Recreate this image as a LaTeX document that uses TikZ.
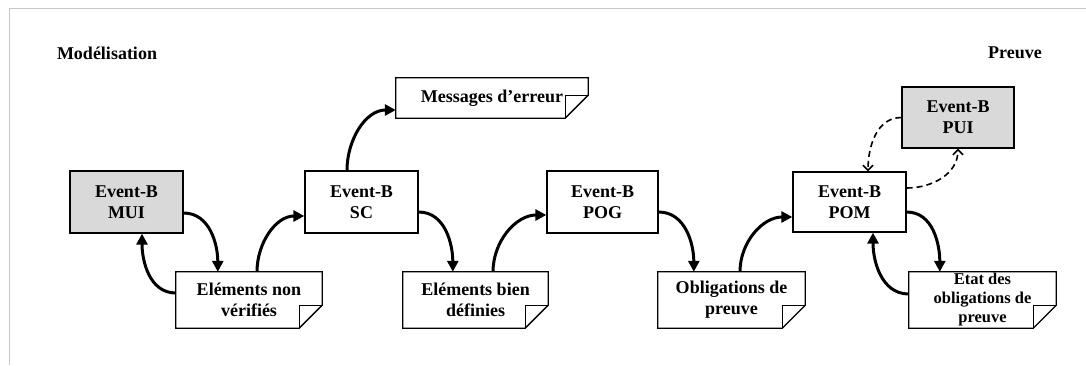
\documentclass[tikz,border=0pt]{standalone}
\usepackage{fontspec}
\setmainfont{Liberation Serif}
\usetikzlibrary{arrows.meta,calc}
\definecolor{boxgray}{HTML}{D9D9D9}
\definecolor{framegray}{HTML}{C8C8C8}
\newcommand\drawdocshape[1]{%
  \draw[line width=1.3pt, line join=miter] (#1.north west) -- (#1.north east) -- ([yshift=23pt]#1.south east) -- ([xshift=-23pt]#1.south east) -- (#1.south west) -- cycle;
  \draw[line width=1.3pt] ([yshift=23pt]#1.south east) -- ([xshift=-23pt,yshift=23pt]#1.south east) -- ([xshift=-23pt]#1.south east);}
\begin{document}
\begin{tikzpicture}[x=1pt,y=1pt,
  font=\bfseries\fontsize{18}{21}\selectfont,
  box/.style={draw, line width=1.3pt, minimum width=113pt, minimum height=62pt, inner sep=0pt, align=center},
  greybox/.style={box, fill=boxgray},
  doc/.style={inner sep=0pt, align=center, minimum height=56pt},
  flow/.style={line width=3pt, -{Triangle[length=11pt,width=11pt]}},
  ret/.style={line width=1.6pt, dash pattern=on 6pt off 4pt, -{Straight Barb[length=5pt,width=10pt]}},
  lbl/.style={inner sep=0pt}]
\useasboundingbox (0,0) rectangle (1086,-365);
\fill[white] (0,0) rectangle (1086,-365);
\draw[framegray, line width=1pt] (1086,-8) -- (9,-8) -- (9,-365);

\node[lbl] (modl) at (107,-53) {Modélisation};
\node[lbl] (preuve) at (1015,-53) {Preuve};

\node[greybox] (mui) at (126.5,-202) {Event-B\\MUI};
\node[box] (sc) at (361.5,-202) {Event-B\\SC};
\node[box, minimum width=111pt] (pog) at (602.5,-202) {Event-B\\POG};
\node[box, minimum height=60pt] (pom) at (849.5,-202) {Event-B\\POM};
\node[greybox, minimum width=112pt, minimum height=61pt] (pui) at (958,-117.5) {Event-B\\PUI};

\node[doc, minimum width=146pt] (e1) at (249,-300) {Eléments non\\vérifiés};
\node[doc, minimum width=192pt, minimum height=40pt] (msg) at (492,-98) {Messages d’erreur};
\node[doc, minimum width=145pt] (e2) at (475.5,-300) {Eléments bien\\définies};
\node[doc, minimum width=147pt] (ob) at (731.5,-300) {Obligations de\\preuve};
\node[doc, minimum width=147pt, font=\bfseries\fontsize{16.5}{19}\selectfont] (etat) at (982.5,-300) {Etat des\\obligations de\\preuve};
\drawdocshape{e1}
\drawdocshape{msg}
\drawdocshape{e2}
\drawdocshape{ob}
\drawdocshape{etat}

\draw[flow] ([yshift=-11pt]mui.east) to[out=0,in=90] ([xshift=42pt]e1.north west);
\draw[flow] ([yshift=7pt]e1.west) to[out=180,in=-90] ([xshift=15.5pt]mui.south);
\draw[flow] ([xshift=8pt]e1.north) to[out=90,in=180] ([yshift=-14pt]sc.west);
\draw[flow] ([xshift=-14.5pt]sc.north) to[out=90,in=180] ([yshift=-12pt]msg.west);
\draw[flow] ([yshift=-10pt]sc.east) to[out=0,in=90] ([xshift=50pt]e2.north west);
\draw[flow] ([xshift=17.5pt]e2.north) to[out=90,in=180] ([yshift=-13pt]pog.west);
\draw[flow] ([yshift=-10pt]pog.east) to[out=0,in=90] ([xshift=36pt]ob.north west);
\draw[flow] ([xshift=8.5pt]ob.north) to[out=90,in=180] ([yshift=-15pt]pom.west);
\draw[flow] ([yshift=-10pt]pom.east) to[out=0,in=90] ([xshift=31pt]etat.north west);
\draw[flow] ([yshift=6pt]etat.west) to[out=180,in=-90] ([xshift=23.5pt]pom.south);
\draw[ret] (pui.west) to[out=180,in=90] ([xshift=18.5pt]pom.north);
\draw[ret] ([yshift=14pt]pom.east) to[out=0,in=-90] (pui.south);
\end{tikzpicture}
\end{document}
